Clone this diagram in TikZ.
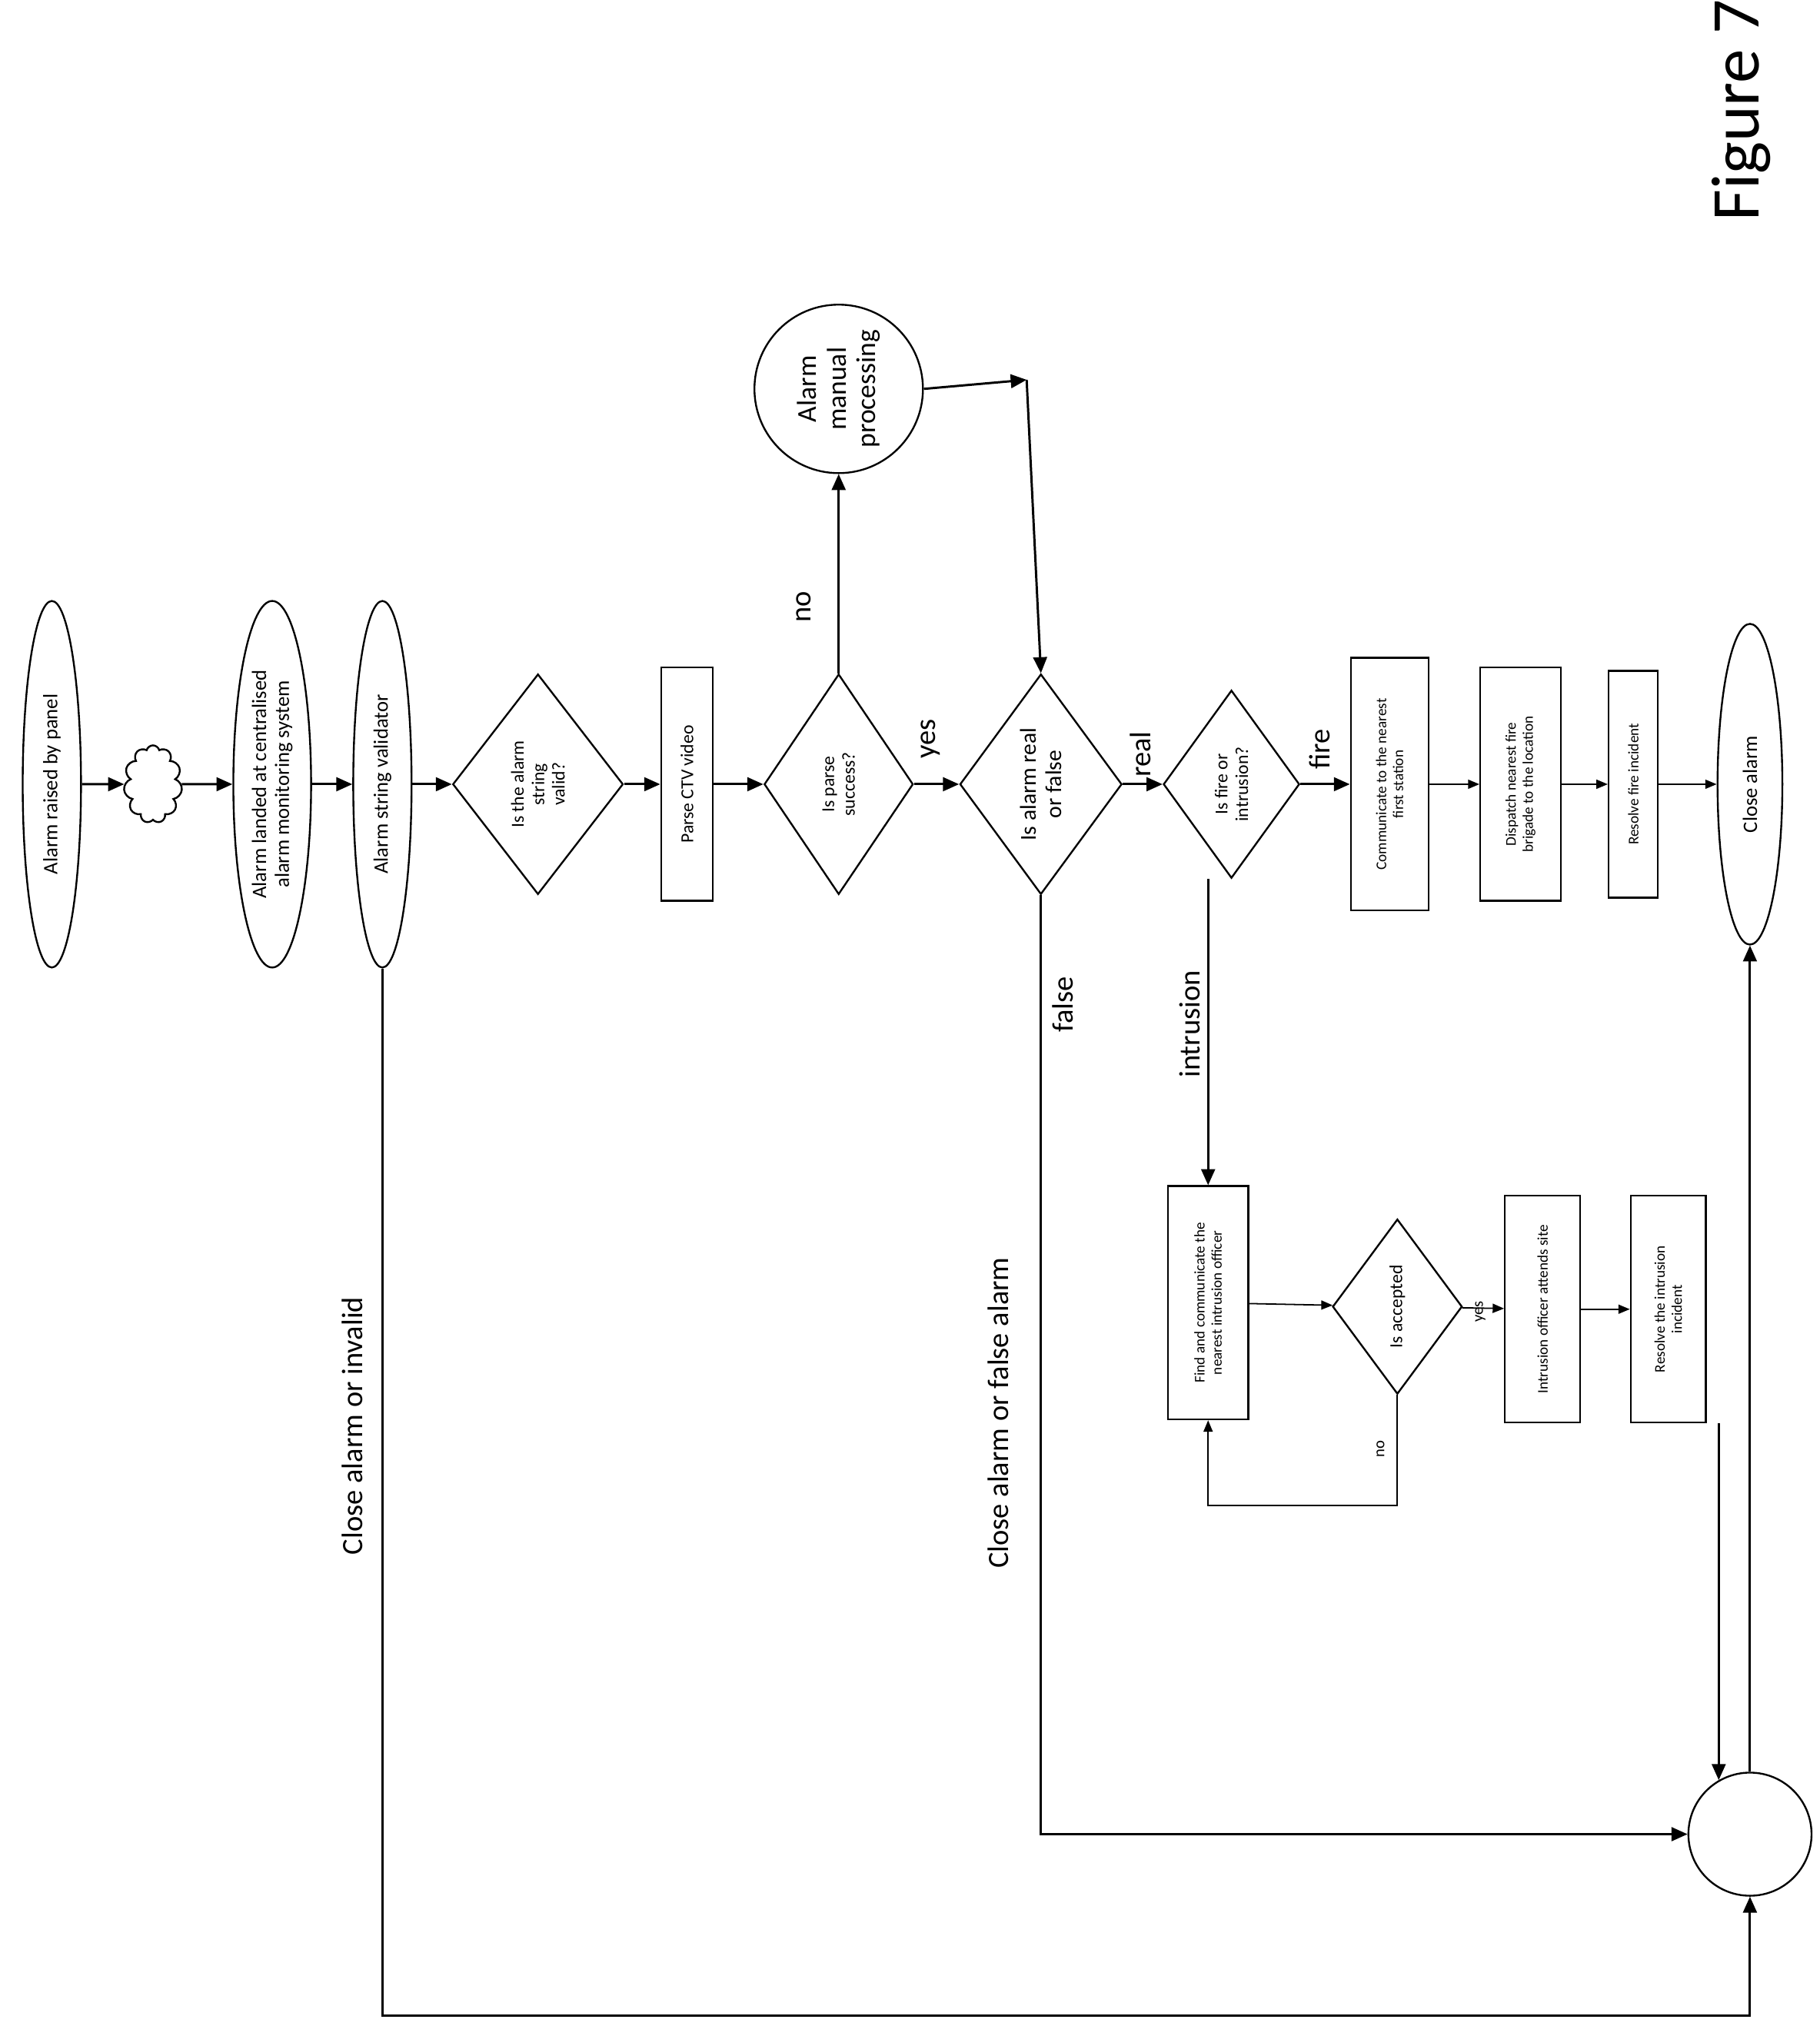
\documentclass[tikz,border=0pt]{standalone}
\usepackage{fontspec}
\setmainfont{Carlito}
\usepackage{graphicx}
\usetikzlibrary{shapes.geometric,shapes.symbols,arrows.meta}
\newcommand{\rt}[2]{\rotatebox{90}{\parbox{#1}{\centering #2}}}
\tikzset{
	arr/.style={-{Triangle[length=7pt,width=6pt]}, line width=1pt},
	thinarr/.style={-{Triangle[length=5pt,width=4pt]}, line width=0.6pt},
	box/.style={draw, thick, rectangle, inner sep=0pt, font=\fontsize{6.5}{7.5}\selectfont},
	dia/.style={draw, thick, diamond, inner sep=0pt, font=\fontsize{8}{9}\selectfont},
	ell/.style={draw, thick, ellipse, inner sep=0pt, font=\fontsize{9}{10}\selectfont},
	lbl/.style={font=\fontsize{13}{14}\selectfont, rotate=90},
	small lbl/.style={font=\fontsize{7}{8}\selectfont, rotate=90},
}
\begin{document}
\begin{tikzpicture}[x=0.02cm, y=-0.02cm]
        \useasboundingbox (0,0) rectangle (1404,1563);
        % main row
        \node[ell, minimum width=0.9cm, minimum height=4.2cm] (panel) at (40,605) {\rt{4cm}{Alarm raised by panel}};
        \node[draw, thick, cloud, cloud puffs=11, minimum width=0.9cm, minimum height=1.2cm, inner sep=0pt] (cloud) at (118,605) {};
        \node[ell, minimum width=1.2cm, minimum height=4.2cm] (landed) at (210,605) {\rt{4cm}{Alarm landed at centralised\\ alarm monitoring system}};
        \node[ell, minimum width=0.9cm, minimum height=4.2cm] (validator) at (295,605) {\rt{4cm}{Alarm string validator}};
        \node[dia, minimum width=2.2cm, minimum height=3.4cm] (valid) at (415,605) {\rt{1.8cm}{Is the alarm string\\ valid?}};
        \node[box, minimum width=0.8cm, minimum height=3.6cm] (parse) at (530,605) {\rt{3.4cm}{\fontsize{8}{9}\selectfont Parse CTV video}};
        \node[dia, minimum width=2.1cm, minimum height=3.4cm] (parseok) at (647,605) {\rt{1.8cm}{Is parse success?}};
        \node[draw, thick, circle, minimum size=2.6cm, inner sep=0pt, font=\fontsize{12}{13}\selectfont] (manual) at (647,300) {\rt{2cm}{Alarm\\ manual\\ processing}};
        \node[dia, minimum width=2.5cm, minimum height=3.4cm] (real) at (803,605) {\rt{1.8cm}{\fontsize{10}{11}\selectfont Is alarm real\\ or false}};
        \node[dia, minimum width=2.1cm, minimum height=2.9cm] (kind) at (950,605) {\rt{1.4cm}{Is fire or\\ intrusion?}};
        \node[box, minimum width=1.2cm, minimum height=3.9cm] (comm) at (1072,605) {\rt{3.7cm}{Communicate to the nearest\\ first station}};
        \node[box, minimum width=1.24cm, minimum height=3.6cm] (dispatch) at (1173,605) {\rt{3.4cm}{Dispatch nearest fire\\ brigade to the location}};
        \node[box, minimum width=0.76cm, minimum height=3.5cm] (resfire) at (1260,605) {\rt{3.3cm}{Resolve fire incident}};
        \node[ell, minimum width=1.0cm, minimum height=3.8cm] (close) at (1350,605) {\rt{3.5cm}{Close alarm}};
        % intrusion branch
        \node[box, minimum width=1.24cm, minimum height=3.6cm] (find) at (932,1005) {\rt{3.4cm}{Find and communicate the\\ nearest intrusion officer}};
        \node[dia, minimum width=2.0cm, minimum height=2.7cm] (accepted) at (1078,1008) {\rt{1.4cm}{Is accepted}};
        \node[box, minimum width=1.16cm, minimum height=3.5cm] (attend) at (1190,1010) {\rt{3.3cm}{Intrusion officer attends site}};
        \node[box, minimum width=1.16cm, minimum height=3.5cm] (resint) at (1287,1010) {\rt{3.3cm}{Resolve the intrusion\\ incident}};
        \node[draw, thick, circle, minimum size=1.9cm] (merge) at (1350,1415) {};
        \coordinate (bend) at (792,293);

        \draw[arr] (panel) -- (cloud);
        \draw[arr] (cloud) -- (landed);
        \draw[arr] (landed) -- (validator);
        \draw[arr] (validator) -- (valid);
        \draw[arr] (valid) -- (parse);
        \draw[arr] (parse) -- (parseok);
        \draw[arr] (parseok) -- (real);
        \draw[arr] (real) -- (kind);
        \draw[arr] (kind) -- (comm);
        \draw[thinarr] (comm) -- (dispatch);
        \draw[thinarr] (dispatch) -- (resfire);
        \draw[thinarr] (resfire) -- (close);
        \draw[arr] (parseok.north) -- (manual.south);
        \draw[arr] (manual.east) -- (bend);
        \draw[arr] (bend) -- (real.north);
        \draw[arr] (kind.south -| find.north) -- (find.north);
        \draw[thinarr] (find) -- (accepted);
        \draw[thinarr] (accepted) -- (attend);
        \draw[thinarr] (attend) -- (resint);
        \draw[thinarr] (accepted.south) -- ++(0,85) -| (find.south);
        \draw[arr] (merge.120 |- resint.south) -- (merge.120);
        \draw[arr] (merge.north) -- (close.south);
        \draw[arr] (real.south) -- (real.south |- merge.west) -- (merge.west);
        \draw[arr] (validator.south) -- (validator.south |- 0,1555) -| (merge.south);
        % labels
        \node[lbl] (lblno) at (620,468) {no};
        \node[lbl] (lblyes) at (718,570) {yes};
        \node[lbl] (lblreal) at (880,582) {real};
        \node[lbl] (lblfire) at (1018,578) {fire};
        \node[lbl] (lblfalse) at (820,775) {false};
        \node[lbl] (lblintr) at (918,790) {intrusion};
        \node[small lbl] (lblyes2) at (1142,1012) {yes};
        \node[small lbl] (lblno2) at (1065,1118) {no};
        \node[lbl] (lblinvalid) at (272,1100) {Close alarm or invalid};
        \node[lbl] (lblfalsealarm) at (770,1090) {Close alarm or false alarm};
        \node[font=\fontsize{30}{32}\selectfont, rotate=90] (fig) at (1343,85) {Figure 7};
\end{tikzpicture}
\end{document}
